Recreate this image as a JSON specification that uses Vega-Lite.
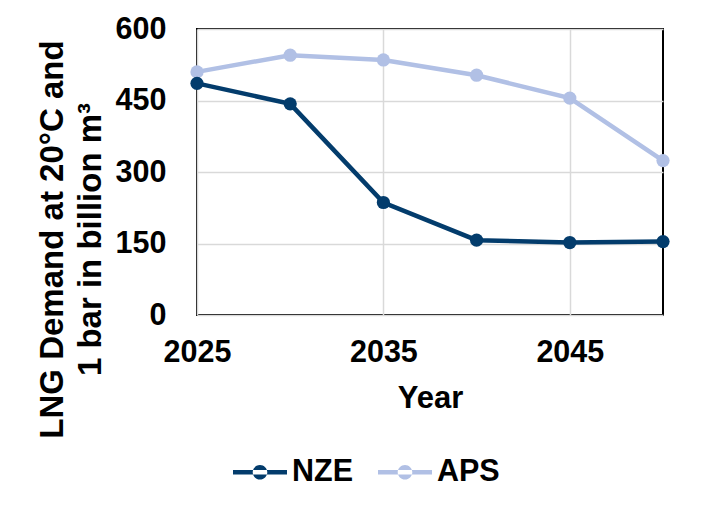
{
  "$schema": "https://vega.github.io/schema/vega-lite/v6.json",
  "width": 466,
  "height": 286,
  "autosize": "none",
  "padding": {"left": 197, "top": 29, "right": 63, "bottom": 201},
  "background": "white",
  "config": {
    "font": "Liberation Sans",
    "view": {"stroke": "black", "strokeWidth": 2}
  },
  "data": {
    "values": [
      {"scenario": "APS", "year": 2025, "demand": 510},
      {"scenario": "APS", "year": 2030, "demand": 545},
      {"scenario": "APS", "year": 2035, "demand": 535},
      {"scenario": "APS", "year": 2040, "demand": 503},
      {"scenario": "APS", "year": 2045, "demand": 455},
      {"scenario": "APS", "year": 2050, "demand": 324},
      {"scenario": "NZE", "year": 2025, "demand": 486},
      {"scenario": "NZE", "year": 2030, "demand": 443},
      {"scenario": "NZE", "year": 2035, "demand": 236},
      {"scenario": "NZE", "year": 2040, "demand": 157},
      {"scenario": "NZE", "year": 2045, "demand": 152},
      {"scenario": "NZE", "year": 2050, "demand": 154}
    ]
  },
  "mark": {
    "type": "line",
    "strokeWidth": 4.5,
    "point": {"filled": true, "size": 175, "opacity": 1}
  },
  "encoding": {
    "x": {
      "field": "year",
      "type": "quantitative",
      "scale": {"domain": [2025, 2050], "nice": false, "zero": false},
      "axis": {
        "values": [2025, 2035, 2045],
        "format": "d",
        "labelFontSize": 30.5,
        "labelFontWeight": "bold",
        "labelColor": "black",
        "labelFlush": false,
        "ticks": false,
        "tickSize": 0,
        "labelPadding": 22,
        "domain": false,
        "grid": true,
        "gridColor": "#d9d9d9",
        "gridWidth": 1.5,
        "title": "Year",
        "titleFontSize": 31,
        "titleFontWeight": "bold",
        "titleColor": "black",
        "titleBaseline": "top",
        "titleY": 68
      }
    },
    "y": {
      "field": "demand",
      "type": "quantitative",
      "scale": {"domain": [0, 600], "nice": false},
      "axis": {
        "values": [0, 150, 300, 450, 600],
        "labelFontSize": 30.5,
        "labelFontWeight": "bold",
        "labelColor": "black",
        "ticks": false,
        "tickSize": 0,
        "labelPadding": 31,
        "domain": false,
        "grid": true,
        "gridColor": "#d9d9d9",
        "gridWidth": 1.5,
        "title": ["LNG Demand at 20°C and", "1 bar  in billion m³"],
        "titleFontSize": 33,
        "titleFontWeight": "bold",
        "titleColor": "black",
        "titleLineHeight": 38,
        "titleAngle": 270,
        "titleAlign": "center",
        "titleBaseline": "middle",
        "titleX": -145,
        "titleY": 210
      }
    },
    "color": {
      "field": "scenario",
      "type": "nominal",
      "scale": {"domain": ["NZE", "APS"], "range": ["#033c6c", "#b1c0e5"]},
      "legend": {
        "title": null,
        "orient": "none",
        "legendX": 36,
        "legendY": 416,
        "direction": "horizontal",
        "labelFontSize": 30.5,
        "labelFontWeight": "bold",
        "labelColor": "black",
        "labelOffset": 5,
        "columnPadding": 25,
        "symbolType": "M-1,-0.08H1V0.08H-1Z M-0.27,0A0.27,0.27 0 1,0 0.27,0A0.27,0.27 0 1,0 -0.27,0Z",
        "symbolSize": 2916,
        "symbolStrokeWidth": 0,
        "encode": {
          "symbols": {
            "update": {
              "fill": {"scale": "color", "field": "value"},
              "stroke": {"value": "transparent"},
              "opacity": {"value": 1}
            }
          }
        }
      }
    }
  }
}
